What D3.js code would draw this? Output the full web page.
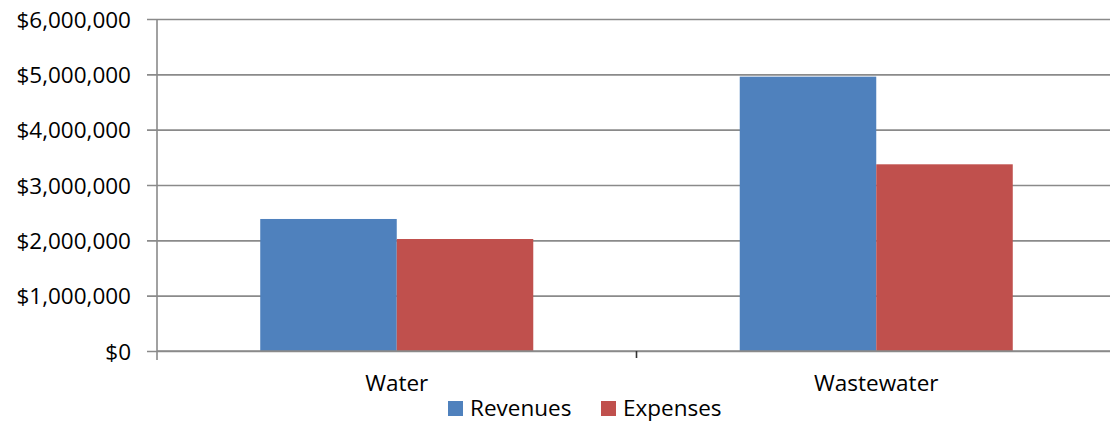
<!DOCTYPE html>
<html>
<head>
<meta charset="utf-8">
<script src="https://cdn.jsdelivr.net/npm/d3@7"></script>
<style>
  html, body { margin: 0; padding: 0; background: #fff; }
  svg { display: block; font-family: "Open Sans", "Noto Sans", sans-serif; }
</style>
</head>
<body>
<svg id="chart" width="1110" height="423"></svg>
<script>
// Fund totals by utility
const categories = ["Water", "Wastewater"];
const seriesNames = ["Revenues", "Expenses"];
const revenues = [2386000, 4958000];
const expenses = [2024000, 3374000];
const yTicks = [0, 1000000, 2000000, 3000000, 4000000, 5000000, 6000000];
const colors = ["#4F81BD", "#C0504D"];

const FONT = "'Open Sans', 'Noto Sans', sans-serif";
const svg = d3.select("#chart");
const W = 1110;
const plot = { left: 157, right: 1116, top: 19, bottom: 351 };

const y = d3.scaleLinear().domain([0, 6000000]).range([plot.bottom, plot.top]);
const x0 = d3.scaleBand().domain(categories).range([plot.left, plot.right])
  .paddingInner(0.4306).paddingOuter(0.2153);
const x1 = d3.scaleBand().domain(seriesNames).range([0, x0.bandwidth()]).padding(0);
const color = d3.scaleOrdinal().domain(seriesNames).range(colors);

// Horizontal gridlines with small left tick stubs and dollar labels
const yAxis = d3.axisLeft(y).tickValues(yTicks).tickFormat(d3.format("$,"))
  .tickSize(-(W - plot.left)).tickSizeOuter(0);
const gy = svg.append("g").attr("transform", `translate(${plot.left},0)`).call(yAxis)
  .attr("font-family", FONT).attr("font-size", 22.5);
gy.select(".domain").remove();
gy.selectAll(".tick line").attr("x1", -10).attr("stroke", "#8a8a8a").attr("stroke-width", 1.6);
gy.selectAll(".tick text").attr("x", -26).attr("dy", "0.36em").attr("fill", "#000");

// Vertical value axis
svg.append("line")
  .attr("x1", plot.left).attr("x2", plot.left)
  .attr("y1", y(6000000)).attr("y2", plot.bottom + 9)
  .attr("stroke", "#8a8a8a").attr("stroke-width", 1.6);

// Bars
const rows = categories.map((c, i) => ({ cat: c, values: [revenues[i], expenses[i]] }));
const groups = svg.append("g").selectAll("g").data(rows).join("g")
  .attr("transform", d => `translate(${x0(d.cat)},0)`);
groups.selectAll("rect")
  .data(d => d.values.map((v, j) => ({ key: seriesNames[j], value: v })))
  .join("rect")
  .attr("x", d => x1(d.key))
  .attr("width", x1.bandwidth())
  .attr("y", d => y(d.value))
  .attr("height", d => y(0) - y(d.value))
  .attr("fill", d => color(d.key));

// Baseline redrawn over the bar bottoms
svg.append("line")
  .attr("x1", plot.left).attr("x2", W)
  .attr("y1", y(0)).attr("y2", y(0))
  .attr("stroke", "#8a8a8a").attr("stroke-width", 1.6);

// Category boundary tick between the two groups
const mid = (x0("Water") + x0.bandwidth() + x0("Wastewater")) / 2;
svg.append("line")
  .attr("x1", mid).attr("x2", mid)
  .attr("y1", y(0)).attr("y2", y(0) + 7)
  .attr("stroke", "#333").attr("stroke-width", 1.6);

// Category labels
svg.append("g").selectAll("text").data(categories).join("text")
  .attr("x", d => x0(d) + x0.bandwidth() / 2)
  .attr("y", 391)
  .attr("text-anchor", "middle")
  .attr("font-size", 22.5)
  .attr("fill", "#000")
  .text(d => d);

// Legend
const legendX = [448, 601];
const legend = svg.append("g").selectAll("g").data(seriesNames).join("g")
  .attr("transform", (d, i) => `translate(${legendX[i]},0)`);
legend.append("rect")
  .attr("x", 0).attr("y", 401).attr("width", 15).attr("height", 15)
  .attr("fill", d => color(d));
legend.append("text")
  .attr("x", 22).attr("y", 416)
  .attr("font-size", 22.5)
  .attr("fill", "#000")
  .text(d => d);
</script>
</body>
</html>
